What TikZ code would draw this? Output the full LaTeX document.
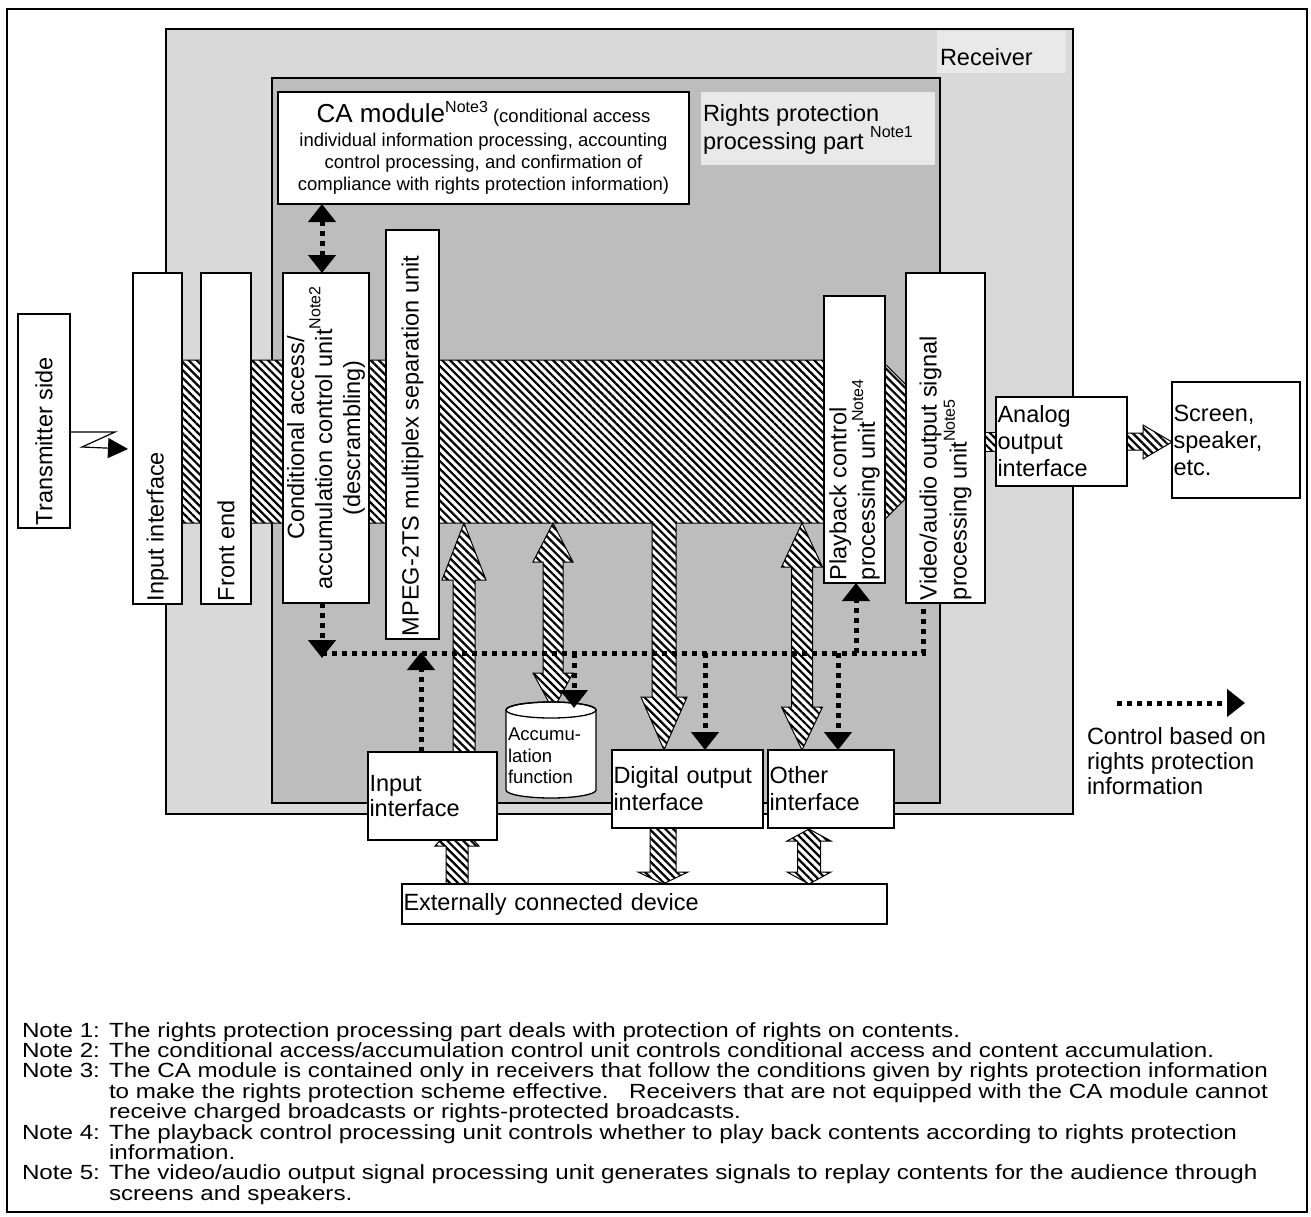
\documentclass[tikz,border=0pt]{standalone}
\usepackage{fontspec}
\setmainfont{Liberation Sans}
\newfontfamily\notefont[FakeStretch=1.18]{Liberation Sans}
\usetikzlibrary{patterns.meta,arrows.meta,calc}
\definecolor{recvgray}{HTML}{D9D9D9}
\definecolor{rppgray}{HTML}{BDBDBD}
\definecolor{patchgray}{HTML}{E9E9E9}
\newcommand\nsup[1]{\raisebox{0.5em}{\fontsize{16}{16}\selectfont #1}}
\begin{document}
\begin{tikzpicture}[x=1pt,y=-1pt,
  every node/.style={inner sep=0pt, outer sep=0pt, font=\fontsize{23.5}{26}\selectfont},
  box/.style={draw=black, line width=1.3pt, fill=white},
  vlabel/.style={rotate=90, anchor=west, align=left, inner sep=3pt, font=\fontsize{23.5}{28.5}\selectfont},
  hbox/.style={box, align=left, inner xsep=1.5pt},
  hatchfill/.style={preaction={fill=white}, pattern={Lines[angle=-45,distance=5.6pt,line width=2.2pt]}},
  hatch/.style={hatchfill, draw=black, line width=1pt},
  ctrl/.style={line width=5pt, dash pattern=on 5pt off 5pt},
  ctip/.style={-{Triangle[length=18pt,width=27pt]}},
  cboth/.style={{Triangle[length=18pt,width=27pt]}-{Triangle[length=18pt,width=27pt]}},
  notetxt/.style={anchor=base west, font=\notefont\fontsize{20.5}{20.5}\selectfont}
]
\useasboundingbox (0,0) rectangle (1311,1217);
% outer frame
\draw[line width=2pt] (7,9) rectangle (1307,1212);

% receiver and rights protection areas
\draw[line width=1.8pt, fill=recvgray] (166,29) rectangle (1073,814);
\fill[patchgray] (937,31) rectangle (1066,73);
\node[anchor=west] (recvT) at (940,57) {Receiver};
\draw[line width=1.8pt, fill=rppgray] (272,78) rectangle (940,803);
\fill[patchgray] (701,92) rectangle (935,165);
\node[anchor=north west, align=left, font=\fontsize{23.5}{27}\selectfont] (rppT) at (703,104) {Rights protection\\processing part \nsup{Note1}};

% hatched main signal band
\draw[hatch] (160,360) -- (881,360) -- (963,441.5) -- (881,523) -- (160,523) -- cycle;
\draw[hatch] (978,432) rectangle (998,451);
\draw[hatch] (1127,433) -- (1143,433) -- (1143,425) -- (1172,442) -- (1143,459) -- (1143,450) -- (1127,450) -- cycle;

% vertical hatched arrows inside receiver
\draw[hatch] (453,752) -- (453,580) -- (442,580) -- (464,523) -- (486,580) -- (475,580) -- (475,752);
\draw[hatch] (543,562) -- (533,562) -- (553,523) -- (573,562) -- (563,562) -- (563,673) -- (573,673) -- (553,710) -- (533,673) -- (543,673) -- cycle;
\draw[hatch] (652,521) -- (652,697) -- (641,697) -- (664,750) -- (687,697) -- (676,697) -- (676,521);
\draw[hatch] (791.5,567) -- (781.5,567) -- (802,523) -- (822.5,567) -- (812.5,567) -- (812.5,707) -- (822.5,707) -- (802,750) -- (781.5,707) -- (791.5,707) -- cycle;

% hatched arrows to external device
\draw[hatch] (446,884) -- (446,846) -- (435,846) -- (457,822) -- (479,846) -- (468,846) -- (468,884);
\draw[hatch] (650,828) -- (650,872) -- (638,872) -- (663,884) -- (688,872) -- (676,872) -- (676,828);
\draw[hatch] (797.5,841) -- (787,841) -- (809,829) -- (831,841) -- (820.5,841) -- (820.5,872) -- (831,872) -- (809,884) -- (787,872) -- (797.5,872) -- cycle;

% vertical boxes
\node[box, minimum width=52pt, minimum height=214pt] (tx) at (44,421) {};
\node[box, minimum width=49pt, minimum height=331pt] (in1) at (157.5,438.5) {};
\node[box, minimum width=50pt, minimum height=331pt] (fe) at (226,438.5) {};
\node[box, minimum width=86pt, minimum height=330pt] (cond) at (326,438) {};
\node[box, minimum width=53pt, minimum height=409pt] (mpeg) at (412.5,434.5) {};
\node[box, minimum width=61pt, minimum height=287pt] (pb) at (854.5,439.5) {};
\node[box, minimum width=79pt, minimum height=330pt] (va) at (945.5,438) {};

\node[vlabel] (txT) at (tx.south) {Transmitter side};
\node[vlabel] (in1T) at (in1.south) {Input interface};
\node[vlabel] (feT) at (fe.south) {Front end};
\node[rotate=90, align=center, font=\fontsize{23.5}{28}\selectfont] (condT) at (cond.center) {Conditional access/\\accumulation control unit\nsup{Note2}\\(descrambling)};
\node[vlabel] (mpegT) at (mpeg.south) {MPEG-2TS multiplex separation unit};
\node[vlabel] (pbT) at (pb.south) {Playback control\\processing unit\nsup{Note4}};
\node[vlabel, font=\fontsize{23.5}{30}\selectfont] (vaT) at (va.south) {Video/audio output signal\\processing unit\nsup{Note5}};

% CA module
\node[box, minimum width=411pt, minimum height=112pt, align=center, font=\fontsize{18.5}{21.7}\selectfont] (ca) at (483.5,148)
 {{\fontsize{26}{30}\selectfont CA module}\nsup{Note3} (conditional access\\[3pt]individual information processing, accounting\\control processing, and confirmation of\\compliance with rights protection information)};

% horizontal boxes
\node[hbox, minimum width=131pt, minimum height=89pt, text width=128pt, font=\fontsize{23.5}{27}\selectfont] (an) at (1061.5,441.5) {Analog\\output\\interface};
\node[hbox, minimum width=128pt, minimum height=116pt, text width=125pt, font=\fontsize{23.5}{27}\selectfont] (scr) at (1236,440) {Screen,\\speaker,\\etc.};
\node[hbox, minimum width=129pt, minimum height=88pt, text width=126pt, font=\fontsize{23.5}{25}\selectfont] (in2) at (432.5,796) {Input\\interface};
\node[hbox, minimum width=151pt, minimum height=78pt, text width=148pt, font=\fontsize{23.5}{27}\selectfont] (dig) at (687.5,789) {Digital output\\interface};
\node[hbox, minimum width=126pt, minimum height=78pt, text width=123pt, font=\fontsize{23.5}{27}\selectfont] (oth) at (831,789) {Other\\interface};
\node[hbox, minimum width=485pt, minimum height=40pt, text width=482pt] (ext) at (644.5,904) {Externally connected device};

% accumulation cylinder
\filldraw[line width=1.3pt, fill=white] (506,710) -- (506,790) arc[start angle=180,end angle=0,x radius=45,y radius=8] -- (596,710) arc[start angle=0,end angle=-180,x radius=45,y radius=8] -- cycle;
\draw[line width=1.3pt] (551,710) ellipse[x radius=45,y radius=8];
\node[anchor=west, align=left, font=\fontsize{18.5}{21.7}\selectfont] (acc) at (508,756) {Accumu-\\lation\\function};
\coordinate (accTop) at (574,708);

% transmitter radio link
\draw[line width=1.2pt, -{Triangle[length=20pt,width=20pt]}] (tx.east |- 0,432) -- (115,432) -- (82,447) -- ($(in1.west |- 0,449)+(-5,0)$);

% control lines
\coordinate (hlL) at (322,653);
\coordinate (hlR) at (923,653);
\coordinate (c1) at (421,652);
\coordinate (c2) at (574,653);
\coordinate (c3) at (705,653);
\coordinate (c4) at (838,653);
\coordinate (c5) at (856,653);
\draw[ctrl, cboth] (ca.south -| hlL) -- (cond.north -| hlL);
\draw[ctrl] (hlL) -- (hlR) -- (va.south -| hlR);
\draw[ctrl, ctip] (cond.south -| hlL) -- ($(hlL)+(0,5)$);
\draw[ctrl, ctip] (in2.north -| c1) -- (c1);
\draw[ctrl, ctip] (c2) -- (c2 |- accTop);
\draw[ctrl, ctip] (c3) -- (c3 |- dig.north);
\draw[ctrl, ctip] (c4) -- (c4 |- oth.north);
\draw[ctrl, ctip] (c5) -- (c5 |- pb.south);

% legend
\coordinate (lg1) at (1117,703);
\coordinate (lg2) at (1245,703);
\draw[ctrl, ctip] (lg1) -- (lg2);
\node[anchor=north west, align=left, font=\fontsize{23.5}{25}\selectfont] (lgT) at (1087,727) {Control based on\\rights protection\\information};

% notes
\node[notetxt] (n1) at (22,1037) {Note 1:};
\node[notetxt] (n1a) at (109,1037) {The rights protection processing part deals with protection of rights on contents.};
\node[notetxt] (n2) at (22,1057.4) {Note 2:};
\node[notetxt] (n2a) at (109,1057.4) {The conditional access/accumulation control unit controls conditional access and content accumulation.};
\node[notetxt] (n3) at (22,1077.8) {Note 3:};
\node[notetxt] (n3a) at (109,1077.8) {The CA module is contained only in receivers that follow the conditions given by rights protection information};
\node[notetxt] (n3b) at (109,1098.2) {to make the rights protection scheme effective.\quad Receivers that are not equipped with the CA module cannot};
\node[notetxt] (n3c) at (109,1118.6) {receive charged broadcasts or rights-protected broadcasts.};
\node[notetxt] (n4) at (22,1139) {Note 4:};
\node[notetxt] (n4a) at (109,1139) {The playback control processing unit controls whether to play back contents according to rights protection};
\node[notetxt] (n4b) at (109,1159.4) {information.};
\node[notetxt] (n5) at (22,1179.8) {Note 5:};
\node[notetxt] (n5a) at (109,1179.8) {The video/audio output signal processing unit generates signals to replay contents for the audience through};
\node[notetxt] (n5b) at (109,1200.2) {screens and speakers.};
\end{tikzpicture}
\end{document}
